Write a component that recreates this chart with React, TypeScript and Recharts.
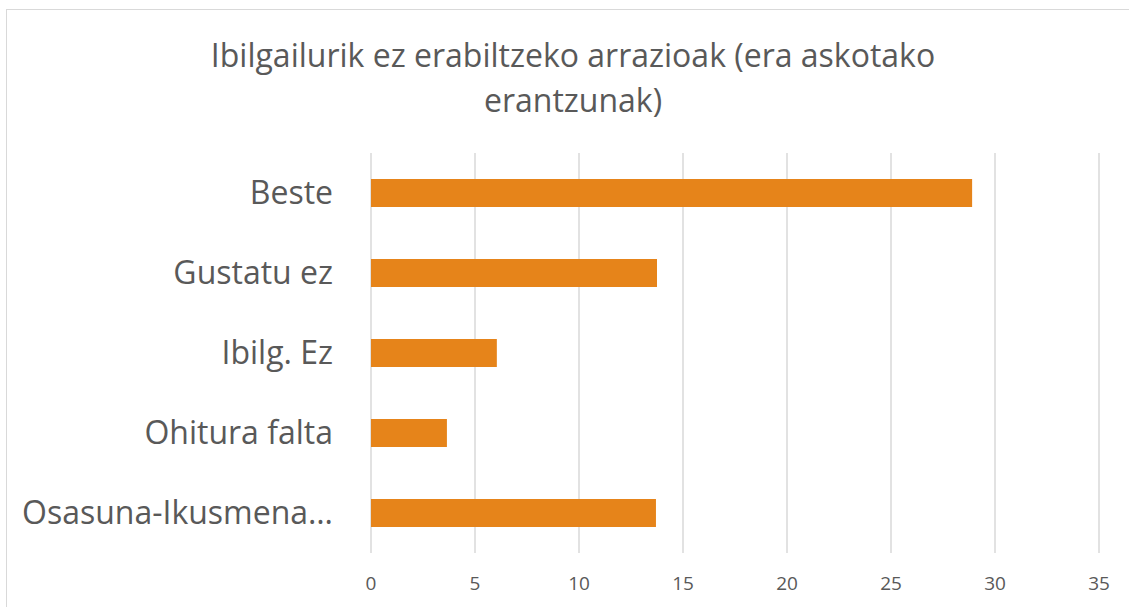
import React from "react";
import { BarChart, Bar, XAxis, YAxis, CartesianGrid } from "recharts";

const categories = ["Beste", "Gustatu ez", "Ibilg. Ez", "Ohitura falta", "Osasuna-Ikusmena…"];
const values = [28.9, 13.75, 6.05, 3.65, 13.7];
const xTicks = [0, 5, 10, 15, 20, 25, 30, 35];
const titleLines = ["Ibilgailurik ez erabiltzeko arrazioak (era askotako", "erantzunak)"];

const data = categories.map((c, i) => ({ name: c, value: values[i] }));

const FONT = "'Open Sans', sans-serif";
const TEXT = "#595959";

export default function App() {
  return (
    <div
      style={{
        position: "fixed",
        left: 0,
        top: 0,
        width: 1129,
        height: 607,
        overflow: "hidden",
        background: "#fff",
        fontFamily: FONT,
      }}
    >
      <div
        style={{
          position: "absolute",
          left: 6,
          top: 9,
          width: 1200,
          height: 700,
          border: "1px solid #d9d9d9",
          boxSizing: "border-box",
        }}
      />
      <div
        style={{
          position: "absolute",
          left: 73,
          width: 1000,
          top: 32,
          textAlign: "center",
          color: TEXT,
          fontSize: 32,
          lineHeight: "45px",
        }}
      >
        <div>{titleLines[0]}</div>
        <div>{titleLines[1]}</div>
      </div>
      <div style={{ position: "absolute", left: 0, top: 0 }}>
        <BarChart
          width={1129}
          height={607}
          layout="vertical"
          data={data}
          margin={{ top: 153, right: 30, bottom: 14, left: 0 }}
        >
          <CartesianGrid horizontal={false} vertical={true} stroke="#d9d9d9" strokeWidth={1.5} />
          <XAxis
            type="number"
            domain={[0, 35]}
            ticks={xTicks}
            axisLine={false}
            tickLine={false}
            tickSize={0}
            tickMargin={24}
            height={40}
            tick={{ fill: TEXT, fontSize: 19, fontFamily: FONT }}
          />
          <YAxis
            type="category"
            dataKey="name"
            width={371}
            axisLine={false}
            tickLine={false}
            tickSize={0}
            tickMargin={38}
            interval={0}
            tick={{ fill: TEXT, fontSize: 32, fontFamily: FONT }}
          />
          <Bar dataKey="value" fill="#E6841A" barSize={28} isAnimationActive={false} />
        </BarChart>
      </div>
    </div>
  );
}
